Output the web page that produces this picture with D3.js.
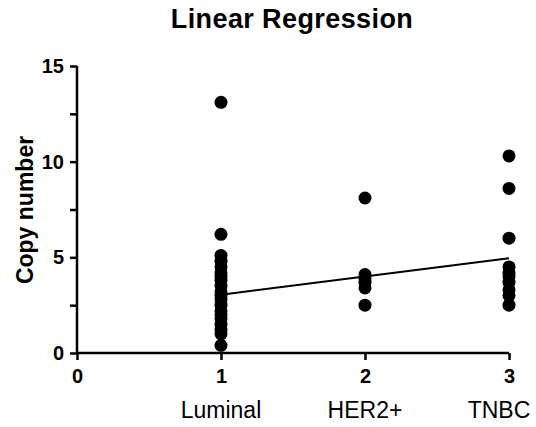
<!DOCTYPE html>
<html>
<head>
<meta charset="utf-8">
<script src="https://cdn.jsdelivr.net/npm/d3@7"></script>
<style>
  body { margin: 0; background: #fff; }
  text { font-family: "Liberation Sans", Arial, sans-serif; }
</style>
</head>
<body>
<svg width="536" height="427"></svg>
<script>
  var groups = ["Luminal", "HER2+", "TNBC"];
  var groupX = [1, 2, 3];
  var luminal = [13.1, 6.2, 5.1, 4.8, 4.5, 4.2, 4.0, 3.8, 3.5, 3.2, 3.0, 2.8, 2.5, 2.2, 2.0, 1.8, 1.5, 1.2, 1.0, 0.4];
  var her2 = [8.1, 4.1, 3.9, 3.7, 3.4, 2.5];
  var tnbc = [10.3, 8.6, 6.0, 4.5, 4.2, 4.0, 3.7, 3.3, 3.0, 2.5];
  var fitX = [1, 3];
  var fitY = [3.05, 4.95];
  var xTicks = [0, 1, 2, 3];
  var yTicks = [0, 5, 10, 15];
  var yMinor = [2.5, 7.5, 12.5];

  var svg = d3.select("svg");

  var x = d3.scaleLinear().domain([0, 3]).range([77, 509]);
  var y = d3.scaleLinear().domain([0, 15]).range([353, 66]);

  var series = [luminal, her2, tnbc];
  var points = [];
  series.forEach(function (vals, i) {
    vals.forEach(function (v) { points.push({ x: groupX[i], y: v }); });
  });

  // axes
  var yAxis = svg.append("g").attr("transform", "translate(77,0)")
    .call(d3.axisLeft(y).tickValues(yTicks).tickSize(7).tickPadding(6));
  var yMin = svg.append("g").attr("transform", "translate(77,0)")
    .call(d3.axisLeft(y).tickValues(yMinor).tickSize(7).tickFormat(""));
  var xAxis = svg.append("g").attr("transform", "translate(0,353)")
    .call(d3.axisBottom(x).tickValues(xTicks).tickSize(7).tickPadding(9).tickFormat(d3.format("d")));

  [yAxis, yMin, xAxis].forEach(function (g) {
    g.select(".domain").attr("stroke", "#000").attr("stroke-width", 2.5);
    g.selectAll(".tick line").attr("stroke", "#000").attr("stroke-width", 2.5);
    g.selectAll(".tick text").attr("fill", "#000").style("font-size", "20px").style("font-weight", "bold");
  });
  // no outer ticks
  yAxis.select(".domain").attr("d", "M0," + y(15) + "V" + y(0));
  yMin.select(".domain").remove();
  xAxis.select(".domain").attr("d", "M" + x(0) + ",0H" + x(3));

  // regression line
  svg.append("path")
    .datum(fitX.map(function (d, i) { return [d, fitY[i]]; }))
    .attr("fill", "none")
    .attr("stroke", "#000")
    .attr("stroke-width", 2)
    .attr("d", d3.line().x(function (d) { return x(d[0]); }).y(function (d) { return y(d[1]); }));

  // points
  svg.append("g").selectAll("circle")
    .data(points)
    .join("circle")
    .attr("cx", function (d) { return x(d.x); })
    .attr("cy", function (d) { return y(d.y); })
    .attr("r", 6.5)
    .attr("fill", "#000");

  // category labels (last one pushed left, it sits on the right edge)
  svg.append("g").selectAll("text")
    .data(groups)
    .join("text")
    .attr("x", function (d, i) { return x(groupX[i]) - (i === 2 ? 10 : 0); })
    .attr("y", 418)
    .attr("text-anchor", "middle")
    .style("font-size", "23px")
    .text(function (d) { return d; });

  svg.append("text")
    .attr("x", 292)
    .attr("y", 28)
    .attr("text-anchor", "middle")
    .style("font-size", "27px")
    .style("font-weight", "bold")
    .style("letter-spacing", "0.4px")
    .text("Linear Regression");

  svg.append("text")
    .attr("transform", "translate(33,210) rotate(-90)")
    .attr("text-anchor", "middle")
    .style("font-size", "23px")
    .style("font-weight", "bold")
    .text("Copy number");
</script>
</body>
</html>
